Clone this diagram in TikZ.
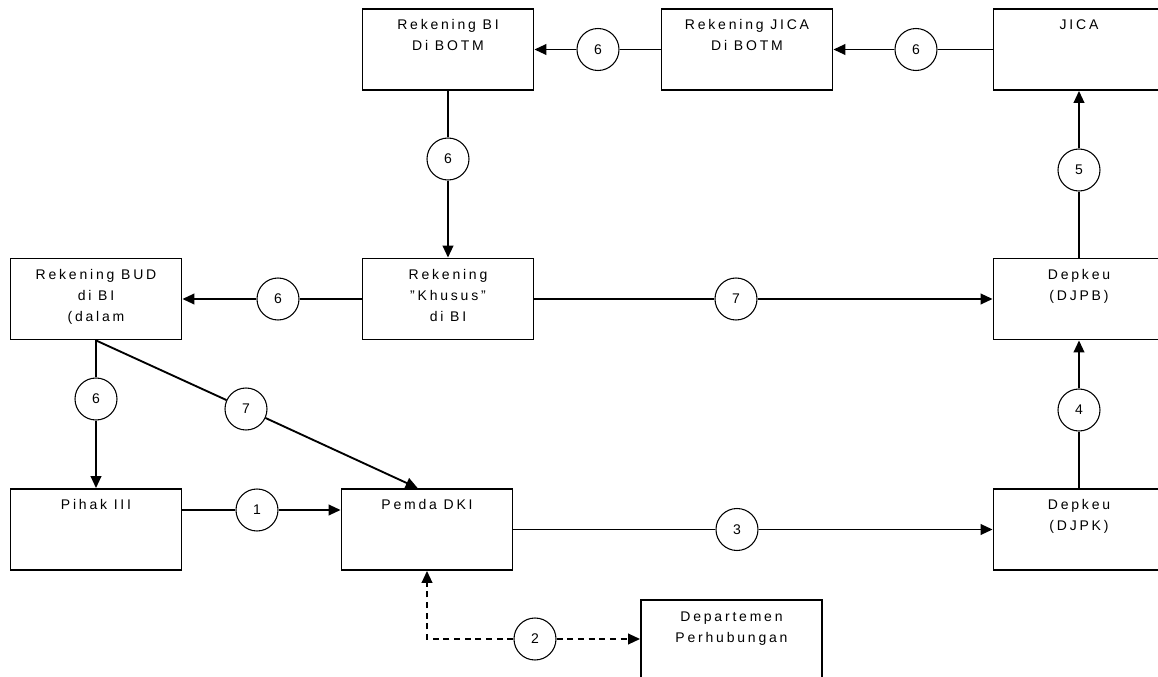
\documentclass[tikz,border=0pt]{standalone}
\usepackage{fontspec}
\setmainfont[LetterSpace=20]{Liberation Sans}
\usetikzlibrary{arrows.meta}

\newcommand{\boxlines}[1]{\begin{tabular}[t]{@{}c@{}}#1\end{tabular}}

\begin{document}
\begin{tikzpicture}[
        x=0.75pt, y=-0.75pt,
        box/.style={rectangle, draw, line width=1.4pt, minimum width=128.25pt, inner sep=0pt, text height=15.75pt, text depth=45pt, font=\fontsize{10.5}{15.75}\selectfont},
        num/.style={circle, draw, line width=0.8pt, fill=white, minimum size=31.5pt, inner sep=0pt, font=\fontsize{10.5}{12}\selectfont},
        arrow/.style={-{Triangle[length=9pt,width=8pt]}, line width=1.4pt},
        link/.style={line width=1.4pt}
    ]
        \useasboundingbox (0,0) rectangle (1158,677);

        \node[box] (bibotm) at (448,49.5) {\boxlines{Rekening BI\\Di BOTM}};
        \node[box] (jicabotm) at (747,49.5) {\boxlines{Rekening JICA\\Di BOTM}};
        \node[box] (jica) at (1079,49.5) {JICA};
        \node[box] (bud) at (96,299) {\boxlines{Rekening BUD\\di BI\\(dalam}};
        \node[box] (khusus) at (448,299) {\boxlines{Rekening\\"Khusus"\\di BI}};
        \node[box] (djpb) at (1079,299) {\boxlines{Depkeu\\(DJPB)}};
        \node[box] (pihak) at (96,529.5) {Pihak III};
        \node[box] (pemda) at (427,529.5) {Pemda DKI};
        \node[box] (djpk) at (1079,529.5) {\boxlines{Depkeu\\(DJPK)}};
        \node[box, minimum width=135.75pt] (dephub) at (731.5,640.5) {\boxlines{Departemen\\Perhubungan}};

        \node[num] (n6a) at (598,49.5) {6};
        \node[num] (n6b) at (916,49.5) {6};
        \node[num] (n6c) at (448,159) {6};
        \node[num] (n6d) at (278,299) {6};
        \node[num] (n7a) at (736,299) {7};
        \node[num] (n5) at (1079,170) {5};
        \node[num] (n4) at (1079,410) {4};
        \node[num] (n6e) at (96,399) {6};
        \node[num] (n7b) at (246,409) {7};
        \node[num] (n1) at (257,510) {1};
        \node[num] (n3) at (737,529.5) {3};
        \node[num] (n2) at (535,639) {2};

        \draw[link] (jicabotm) -- (n6a);
        \draw[arrow] (n6a) -- (bibotm);
        \draw[link] (jica) -- (n6b);
        \draw[arrow] (n6b) -- (jicabotm);
        \draw[link] (bibotm) -- (n6c);
        \draw[arrow] (n6c) -- (khusus);
        \draw[link] (khusus) -- (n6d);
        \draw[arrow] (n6d) -- (bud);
        \draw[link] (khusus) -- (n7a);
        \draw[arrow] (n7a) -- (djpb);
        \draw[link] (djpb) -- (n5);
        \draw[arrow] (n5) -- (jica);
        \draw[link] (djpk) -- (n4);
        \draw[arrow] (n4) -- (djpb);
        \draw[link] (bud) -- (n6e);
        \draw[arrow] (n6e) -- (pihak);
        \draw[link] (bud.south) -- (n7b);
        \draw[arrow] (n7b) -- ([xshift=-7pt]pemda.north);
        \draw[link] (n1 -| pihak.east) -- (n1);
        \draw[arrow] (n1) -- (n1 -| pemda.west);
        \draw[link] (pemda) -- (n3);
        \draw[arrow] (n3) -- (djpk);
        \draw[arrow, dash pattern=on 4.5pt off 3.5pt] (n2) -| (pemda.south);
        \draw[arrow, dash pattern=on 4.5pt off 3.5pt] (n2) -- (n2 -| dephub.west);
    \end{tikzpicture}
\end{document}
